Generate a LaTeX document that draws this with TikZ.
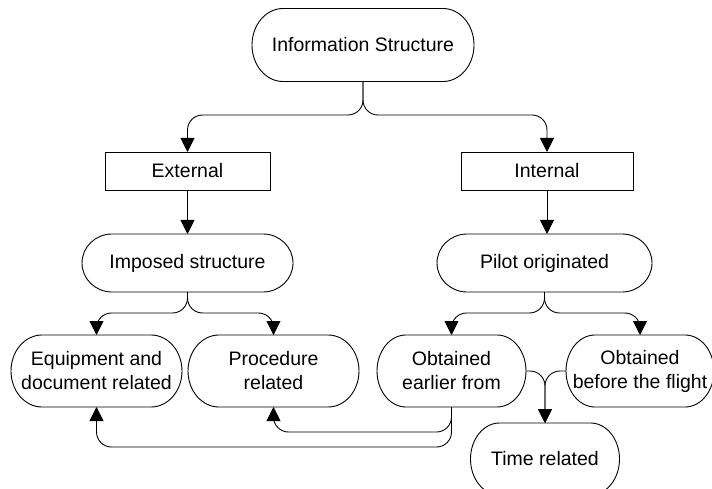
\documentclass[tikz,border=0pt]{standalone}
\usepackage{fontspec}
\setmainfont{Liberation Sans}
\usetikzlibrary{arrows.meta}

% outline of a terminator-shaped node: name, end x radius, end y radius
\newcommand\pilloutline[3]{%
  \draw[outline] ([xshift=#2]#1.north west) -- ([xshift=-#2]#1.north east)
    arc[start angle=90,end angle=-90,x radius=#2,y radius=#3]
    -- ([xshift=#2]#1.south west)
    arc[start angle=270,end angle=90,x radius=#2,y radius=#3] -- cycle;}

\begin{document}
\begin{tikzpicture}[x=1pt,y=1pt,
  every node/.style={inner sep=0pt,outer sep=0pt,align=center,
    font=\fontsize{19.5}{24}\selectfont},
  box/.style={draw,line width=0.9pt,minimum width=#1},
  term/.style 2 args={minimum width=#1,minimum height=#2},
  outline/.style={line width=0.9pt},
  conn/.style={line width=0.9pt,rounded corners=15pt,
    -{Triangle[length=14pt,width=14pt]}}]
\clip (0,0) rectangle (712,488);

% nodes
\node[term={222}{73}] (info) at (363,443) {Information Structure};
\node[box=165,minimum height=38] (ext) at (187.5,317) {External};
\node[box=172,minimum height=38] (int) at (547,317) {Internal};
\node[term={211}{58}] (imp) at (187.5,225) {Imposed structure};
\node[term={215}{58}] (pil) at (544.5,225) {Pilot originated};
\node[term={171}{72}] (equ) at (96.5,117) {Equipment and\\document related};
\node[term={171}{72}] (proc) at (273.5,117) {Procedure\\related};
\node[term={149}{72}] (earl) at (451.5,117) {Obtained\\earlier from};
\node[term={148}{72}] (bef) at (640,117) {Obtained\\before the flight};
\node[term={149}{72}] (time) at (545,29) {Time related};

\pilloutline{info}{31}{36.5}
\pilloutline{imp}{30}{29}
\pilloutline{pil}{30}{29}
\pilloutline{equ}{31}{36}
\pilloutline{proc}{31}{36}
\pilloutline{earl}{29}{36}
\pilloutline{bef}{29}{36}
\pilloutline{time}{29}{36}

% connectors
\draw[conn] (info.south) |- ([yshift=37]ext.north) -- (ext.north);
\draw[conn] (info.south) |- ([yshift=37]int.north) -- (int.north);
\draw[conn] (ext.south) -- (imp.north);
\draw[conn] (int.south) -- (int.south |- pil.north);
\draw[conn] (imp.south) |- ([yshift=22]equ.north) -- (equ.north);
\draw[conn] (imp.south) |- ([yshift=22]proc.north) -- (proc.north);
\draw[conn] (pil.south) |- ([yshift=22]earl.north) -- (earl.north);
\draw[conn] (pil.south) |- ([yshift=22]bef.north) -- (bef.north);
\draw[conn] (earl.east) -| (time.north);
\draw[conn] (bef.west) -| (time.north);
\draw[conn] (earl.south) |- ([yshift=-25]proc.south) -- (proc.south);
\draw[conn] (earl.south) |- ([yshift=-40]equ.south) -- (equ.south);
\end{tikzpicture}
\end{document}
